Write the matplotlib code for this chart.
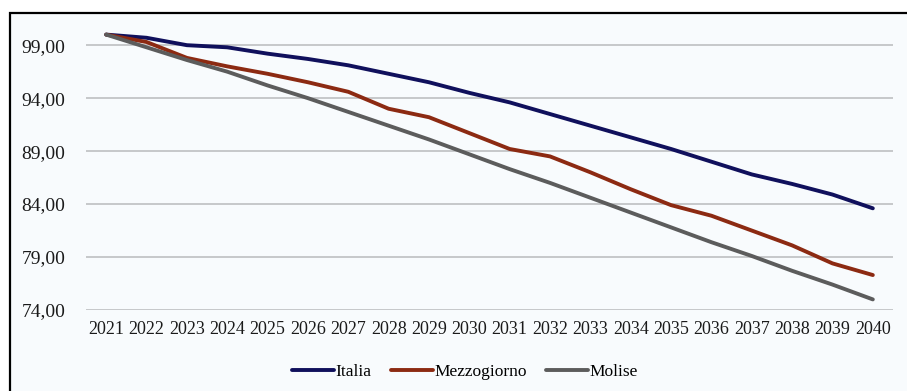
import matplotlib.pyplot as plt
import matplotlib.ticker as mticker
from matplotlib.patches import Rectangle

# dati (indice, 2021 = 100)
anni = [str(a) for a in range(2021, 2041)]
italia = [100.0, 99.7, 99.0, 98.8, 98.2, 97.7, 97.1, 96.3, 95.5, 94.5,
          93.6, 92.5, 91.4, 90.3, 89.2, 88.0, 86.8, 85.9, 84.9, 83.6]
mezzogiorno = [100.0, 99.3, 97.8, 97.0, 96.3, 95.5, 94.6, 93.0, 92.2, 90.7,
               89.2, 88.5, 87.0, 85.4, 83.9, 82.9, 81.5, 80.1, 78.4, 77.3]
molise = [100.0, 98.8, 97.6, 96.5, 95.2, 94.0, 92.7, 91.4, 90.1, 88.7,
          87.3, 86.0, 84.6, 83.2, 81.8, 80.4, 79.1, 77.7, 76.4, 75.0]
y_ticks = [74, 79, 84, 89, 94, 99]

colori = ['#10105c', '#8c2a12', '#5c5c5c']

plt.rcParams['font.family'] = ['Liberation Serif', 'DejaVu Serif']

fig = plt.figure(figsize=(9.07, 3.91), dpi=100)
ax = fig.add_axes([86/907, 81/391, 807/907, 286/391])
ax.set_facecolor('#f8fbfd')

# cornice nera del grafico
fig.patches.append(Rectangle((10/907, -0.1), 1.2, (391-13)/391 + 0.1, transform=fig.transFigure,
                             fill=False, edgecolor='black', linewidth=1.6, zorder=0))
fig.patches.append(Rectangle((11/907, -0.1), 1.2, (391-14)/391 + 0.1, transform=fig.transFigure,
                             facecolor='#f8fbfd', edgecolor='none', zorder=-1))

x = range(len(anni))
ax.plot(x, italia, color=colori[0], lw=2.8, label='Italia', solid_capstyle='round')
ax.plot(x, mezzogiorno, color=colori[1], lw=2.8, label='Mezzogiorno', solid_capstyle='round')
ax.plot(x, molise, color=colori[2], lw=2.8, label='Molise', solid_capstyle='round')

ax.set_xlim(-0.5, len(anni) - 0.5)
ax.set_ylim(74, 101)
ax.set_xticks(list(x))
ax.set_xticklabels(anni)
ax.set_yticks(y_ticks)
ax.yaxis.set_major_formatter(mticker.FuncFormatter(lambda v, p: f'{v:.2f}'.replace('.', ',')))
ax.grid(True, axis='y', color='#c6c8ca', linewidth=1.4)
ax.set_axisbelow(True)
for s in ax.spines.values():
    s.set_visible(False)
ax.tick_params(axis='both', length=0, colors='#1a1a1a')
ax.tick_params(axis='x', pad=8, labelsize=13)
ax.tick_params(axis='y', pad=15, labelsize=14)

fig.legend(loc='center', bbox_to_anchor=(465/907, 1 - 372/391), ncol=3, frameon=False,
           fontsize=12.5, handlelength=2.4, handletextpad=0.1, columnspacing=1.1)

plt.savefig('out.png', dpi=100)
